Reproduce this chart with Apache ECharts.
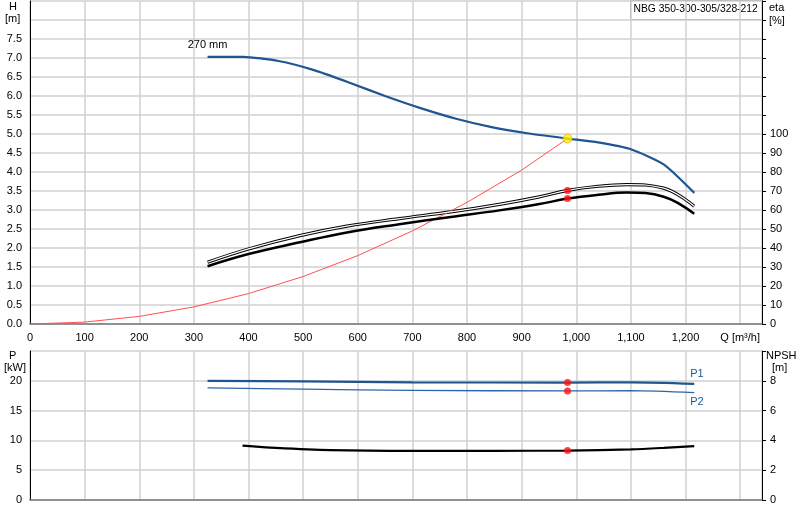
<!DOCTYPE html>
<html><head><meta charset="utf-8">
<script src="https://cdn.jsdelivr.net/npm/echarts@6/dist/echarts.min.js"></script>
<style>html,body{margin:0;padding:0;background:#fff}#c{width:800px;height:520px}</style>
</head><body><div id="c"></div>
<script>
const headCurve = [[325,7.03],[390,7.03],[455,6.92],[520,6.68],[585,6.35],[650,6.0],[715,5.68],[780,5.4],[845,5.18],[910,5.02],[984,4.88],[1040,4.78],[1100,4.6],[1160,4.2],[1216,3.45]];
const etaUpper = [[325,32.5],[400,39.5],[494,46.5],[580,51.5],[676,55.5],[770,59],[859,63],[930,66.8],[984,70.3],[1040,72.5],[1092,73.4],[1160,71.5],[1216,62]];
const etaLower = [[325,30.4],[400,36.8],[494,43],[580,48.2],[676,52.5],[770,56.3],[859,59.8],[930,63],[984,66],[1040,68],[1092,69.2],[1160,67],[1216,58]];
const systemCurve = [[0,0],[100,0.05],[200,0.2],[300,0.45],[400,0.8],[500,1.25],[600,1.8],[700,2.45],[800,3.2],[900,4.05],[984,4.88]];
const dutyPoint = [984,4.88];
const openPoint = [1073,5.8];
const etaPoints = [[984,70.3],[984,66]];
const p1Curve = [[325,20.0],[500,19.9],[700,19.75],[984,19.7],[1100,19.75],[1216,19.5]];
const p2Curve = [[325,18.8],[500,18.6],[700,18.4],[984,18.3],[1100,18.35],[1216,18.0]];
const npshCurve = [[389,3.65],[450,3.5],[550,3.35],[700,3.3],[850,3.3],[984,3.32],[1100,3.4],[1160,3.5],[1216,3.62]];
const pPoints = [[984,19.7],[984,18.3]];
const npshPoint = [984,3.32];

const gridCol = '#d0d0d0';
const txt = {color:'#000', fontFamily:'Liberation Sans, Arial', fontSize:11};
const xCommon = {type:'value', min:0, max:1340, interval:100, splitLine:{show:true,lineStyle:{color:gridCol,width:1.5}}, axisTick:{show:false}, axisLine:{lineStyle:{color:'#777',width:1.5}}};
const chart = echarts.init(document.getElementById('c'));
chart.setOption({
  animation:false,
  grid:[{left:30,right:38,top:1,bottom:196},{left:30,right:38,top:351,bottom:20}],
  xAxis:[
    Object.assign({},xCommon,{gridIndex:0, axisLabel:Object.assign({},txt,{formatter:v=>v===1300?'Q [m³/h]':v.toLocaleString('en-US')})}),
    Object.assign({},xCommon,{gridIndex:1, axisLabel:{show:false}})
  ],
  yAxis:[
    {gridIndex:0,type:'value',min:0,max:8.5,interval:0.5,axisLine:{show:true,lineStyle:{color:'#000'}},axisTick:{show:false},
     splitLine:{lineStyle:{color:gridCol,width:1.5}},axisLabel:Object.assign({},txt,{formatter:v=>v>7.5?'':v.toFixed(1)})},
    {gridIndex:0,type:'value',position:'right',min:0,max:170,interval:10,axisLine:{show:true,lineStyle:{color:'#000'}},axisTick:{show:true,length:4,lineStyle:{color:'#000'}},
     splitLine:{show:false},axisLabel:Object.assign({},txt,{formatter:v=>v>100?'':String(v)})},
    {gridIndex:1,type:'value',min:0,max:25,interval:5,axisLine:{show:true,lineStyle:{color:'#000'}},axisTick:{show:false},
     splitLine:{lineStyle:{color:gridCol,width:1.5}},axisLabel:Object.assign({},txt,{formatter:v=>v>20?'':String(v)})},
    {gridIndex:1,type:'value',position:'right',min:0,max:10,interval:2,axisLine:{show:true,lineStyle:{color:'#000'}},axisTick:{show:true,length:4,lineStyle:{color:'#000'}},
     splitLine:{show:false},axisLabel:Object.assign({},txt,{formatter:v=>v>8?'':String(v)})}
  ],
  series:[
    {type:'line',data:systemCurve,xAxisIndex:0,yAxisIndex:0,symbol:'none',lineStyle:{color:'#ff5050',width:1}},
    {type:'line',data:headCurve,xAxisIndex:0,yAxisIndex:0,symbol:'none',smooth:0.2,lineStyle:{color:'#1f5590',width:2.2},
     markPoint:{symbol:'circle',symbolSize:1,itemStyle:{color:'transparent'},label:Object.assign({},txt,{show:true,position:'inside',offset:[0,-12],formatter:'270 mm'}),data:[{coord:headCurve[0]}]}},
    {type:'line',data:etaUpper,xAxisIndex:0,yAxisIndex:1,symbol:'none',smooth:0.4,lineStyle:{color:'#000',width:3.2},z:2},
    {type:'line',data:etaUpper,xAxisIndex:0,yAxisIndex:1,symbol:'none',smooth:0.4,lineStyle:{color:'#fff',width:1.2},z:3},
    {type:'line',data:etaLower,xAxisIndex:0,yAxisIndex:1,symbol:'none',smooth:0.4,lineStyle:{color:'#000',width:2.5},z:3},
    {type:'scatter',data:etaPoints,xAxisIndex:0,yAxisIndex:1,symbolSize:7,itemStyle:{color:'#ff1010'},z:5},
    {type:'scatter',data:[dutyPoint],xAxisIndex:0,yAxisIndex:0,symbolSize:9,itemStyle:{color:'#ffee00',borderColor:'#ffaa00',borderWidth:1},z:6},
    {type:'scatter',data:[openPoint],xAxisIndex:0,yAxisIndex:0,symbol:'emptyCircle',symbolSize:7,itemStyle:{color:'#fff',borderColor:'#ff4040',borderWidth:1},z:6},
    {type:'line',data:p1Curve,xAxisIndex:1,yAxisIndex:2,symbol:'none',smooth:0.3,lineStyle:{color:'#1f5590',width:2.2},
     endLabel:{show:true,formatter:'P1',color:'#1f5590',fontSize:11,offset:[-12,-10]}},
    {type:'line',data:p2Curve,xAxisIndex:1,yAxisIndex:2,symbol:'none',smooth:0.3,lineStyle:{color:'#2f65a8',width:1.3},
     endLabel:{show:true,formatter:'P2',color:'#1f5590',fontSize:11,offset:[-12,9]}},
    {type:'line',data:npshCurve,xAxisIndex:1,yAxisIndex:3,symbol:'none',smooth:0.3,lineStyle:{color:'#000',width:2.2}},
    {type:'scatter',data:pPoints,xAxisIndex:1,yAxisIndex:2,symbolSize:7,itemStyle:{color:'#ff1010'},z:5},
    {type:'scatter',data:[npshPoint],xAxisIndex:1,yAxisIndex:3,symbolSize:7,itemStyle:{color:'#ff1010'},z:5}
  ],
  graphic:[
    {type:'text',left:9,top:1,style:{text:'H',fill:'#000',font:'11px Liberation Sans'}},
    {type:'text',left:5,top:13,style:{text:'[m]',fill:'#000',font:'11px Liberation Sans'}},
    {type:'text',left:769,top:1,style:{text:'eta\n[%]',fill:'#000',font:'11px Liberation Sans',lineHeight:13}},
    {type:'text',left:9,top:350,style:{text:'P',fill:'#000',font:'11px Liberation Sans'}},
    {type:'text',left:4,top:362,style:{text:'[kW]',fill:'#000',font:'11px Liberation Sans'}},
    {type:'text',left:766,top:350,style:{text:'NPSH',fill:'#000',font:'11px Liberation Sans'}},
    {type:'text',left:772,top:362,style:{text:'[m]',fill:'#000',font:'11px Liberation Sans'}},
    {type:'group',left:630,top:0,z:20,children:[
      {type:'rect',shape:{x:0,y:0,width:132,height:19},style:{fill:'#fff',stroke:'#888',lineWidth:1}},
      {type:'text',x:3,y:4,style:{text:'NBG 350-300-305/328-212',fill:'#000',font:'10.3px Liberation Sans'}}
    ]}
  ]
});
</script></body></html>
